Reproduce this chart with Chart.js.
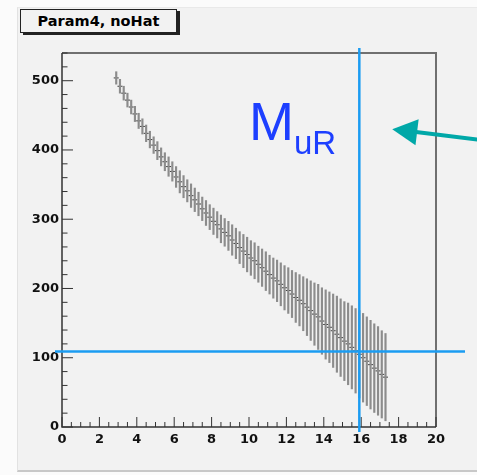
<!DOCTYPE html>
<html>
<head>
<meta charset="utf-8">
<script src="https://cdn.jsdelivr.net/npm/chart.js@4/dist/chart.umd.min.js"></script>
<style>
    html, body { margin: 0; padding: 0; background: #fbfbfb; }
    #wrap { position: relative; width: 477px; height: 475px; overflow: hidden; }
    #panel { position: absolute; left: 17px; top: 7px; width: 460px; height: 462px; background: #f2f2f2;
             border-left: 1px solid #e2e2e2; border-top: 1px solid #e9e9e9; border-bottom: 2px solid #c8c8c8; }
    #title { position: absolute; left: 20px; top: 9px; width: 155px; height: 22px; background: #f2f2f2;
             border: 1px solid #222; box-shadow: 3px 2px 0 #222; color: #000;
             font: bold 14.5px "DejaVu Sans", sans-serif; line-height: 22px; text-align: center; }
    #chart { position: absolute; left: 0; top: 0; }
</style>
</head>
<body>
<div id="wrap">
    <div id="panel"></div>
    <div id="title">Param4, noHat</div>
    <canvas id="chart" width="477" height="475"></canvas>
</div>
<script>
// bin centres
var binX = [2.9, 3.1, 3.3, 3.5, 3.7, 3.9, 4.1, 4.3, 4.5, 4.7,
            4.9, 5.1, 5.3, 5.5, 5.7, 5.9, 6.1, 6.3, 6.5, 6.7,
            6.9, 7.1, 7.3, 7.5, 7.7, 7.9, 8.1, 8.3, 8.5, 8.7,
            8.9, 9.1, 9.3, 9.5, 9.7, 9.9, 10.1, 10.3, 10.5, 10.7,
            10.9, 11.1, 11.3, 11.5, 11.7, 11.9, 12.1, 12.3, 12.5, 12.7,
            12.9, 13.1, 13.3, 13.5, 13.7, 13.9, 14.1, 14.3, 14.5, 14.7,
            14.9, 15.1, 15.3, 15.5, 15.7, 15.9, 16.1, 16.3, 16.5, 16.7,
            16.9, 17.1, 17.3];
// bin contents
var binY = [504, 492, 482, 472, 462, 452, 442, 434, 424, 415,
            407, 399, 390, 383, 376, 369, 361, 354, 347, 341,
            334, 328, 322, 315, 309, 303, 297, 292, 286, 281,
            276, 270, 265, 259, 254, 249, 244, 240, 235, 230,
            225, 220, 215, 211, 206, 201, 197, 192, 187, 183,
            178, 173, 168, 163, 159, 153, 148, 144, 139, 134,
            129, 124, 120, 115, 110, 105, 100, 95, 90, 85,
            81, 76, 72];
// half error
var binErr = [9, 10, 10, 10, 10, 11, 11, 11, 12, 12,
              12, 13, 13, 13, 14, 14, 15, 16, 16, 16,
              17, 17, 17, 17, 18, 18, 19, 19, 20, 20,
              21, 22, 22, 23, 24, 25, 25, 26, 26, 27,
              28, 28, 29, 30, 31, 32, 33, 34, 36, 37,
              39, 41, 43, 45, 47, 48, 50, 51, 53, 55,
              56, 57, 59, 60, 61, 63, 64, 64, 64, 64,
              64, 63, 63];

var cutX = 15.9;
var cutY = 109;
var labelMain = "M";
var labelSub = "uR";
var labelAt = { x: 10.0, y: 414 };
var arrowTip = { x: 17.66, y: 430 };
var arrowTail = { x: 22.5, y: 414 };

var barData = [];
var centerData = [];
for (var i = 0; i < binX.length; i++) {
    barData.push({ x: binX[i], y: [binY[i] - binErr[i], binY[i] + binErr[i]] });
    centerData.push({ x: binX[i], y: binY[i] });
}

function seg(ctx, x1, y1, x2, y2) {
    ctx.beginPath();
    ctx.moveTo(x1, y1);
    ctx.lineTo(x2, y2);
    ctx.stroke();
}

// ROOT-like frame with inward tick marks
var frameTicks = {
    id: 'frameTicks',
    beforeDatasetsDraw: function (chart) {
        var ctx = chart.ctx, a = chart.chartArea;
        var xs = chart.scales.x, ys = chart.scales.y;
        ctx.save();
        ctx.strokeStyle = '#707070';
        ctx.lineWidth = 2;
        ctx.beginPath();
        ctx.moveTo(a.left, a.top);
        ctx.lineTo(a.right, a.top);
        ctx.lineTo(a.right, a.bottom);
        ctx.stroke();
        ctx.strokeStyle = '#333333';
        ctx.lineWidth = 1.5;
        ctx.beginPath();
        ctx.moveTo(a.left, a.top);
        ctx.lineTo(a.left, a.bottom);
        ctx.lineTo(a.right, a.bottom);
        ctx.stroke();

        ctx.lineWidth = 1;
        var v, p, len;
        for (v = xs.min; v <= xs.max + 1e-6; v += 0.5) {
            p = xs.getPixelForValue(v);
            len = Math.abs(v / 2 - Math.round(v / 2)) < 1e-6 ? 10 : 5;
            seg(ctx, p, a.bottom, p, a.bottom - len);
        }
        for (v = ys.min; v <= ys.max + 1e-6; v += 20) {
            p = ys.getPixelForValue(v);
            len = v % 100 === 0 ? 11 : 5.5;
            seg(ctx, a.left, p, a.left + len, p);
        }
        ctx.restore();
    }
};

// cut lines, label and arrow
var markers = {
    id: 'markers',
    afterDraw: function (chart) {
        var ctx = chart.ctx, a = chart.chartArea;
        var xs = chart.scales.x, ys = chart.scales.y;
        ctx.save();
        ctx.strokeStyle = '#1b9cf2';
        ctx.lineWidth = 2.5;
        var px = xs.getPixelForValue(cutX);
        var py = ys.getPixelForValue(cutY);
        seg(ctx, px, a.top - 5, px, a.bottom + 5);
        seg(ctx, a.left - 7, py, a.right + 29, py);

        ctx.fillStyle = '#1d3fff';
        ctx.textBaseline = 'alphabetic';
        ctx.font = '54px "Liberation Sans", Arial, sans-serif';
        var lx = xs.getPixelForValue(labelAt.x), ly = ys.getPixelForValue(labelAt.y);
        ctx.fillText(labelMain, lx, ly);
        var w = ctx.measureText(labelMain).width;
        ctx.font = '33px "Liberation Sans", Arial, sans-serif';
        ctx.fillText(labelSub, lx + w, ly + 14);

        var tx = xs.getPixelForValue(arrowTip.x), ty = ys.getPixelForValue(arrowTip.y);
        var sx = xs.getPixelForValue(arrowTail.x), sy = ys.getPixelForValue(arrowTail.y);
        var ang = Math.atan2(sy - ty, sx - tx);
        var hl = 25, hw = 13;
        var bx = tx + Math.cos(ang) * hl, by = ty + Math.sin(ang) * hl;
        ctx.strokeStyle = '#00a8a8';
        ctx.fillStyle = '#00a8a8';
        ctx.lineWidth = 4;
        seg(ctx, sx, sy, bx - Math.cos(ang) * 3, by - Math.sin(ang) * 3);
        ctx.beginPath();
        ctx.moveTo(tx, ty);
        ctx.lineTo(bx - Math.sin(ang) * hw, by + Math.cos(ang) * hw);
        ctx.lineTo(bx + Math.sin(ang) * hw, by - Math.cos(ang) * hw);
        ctx.closePath();
        ctx.fill();
        ctx.restore();
    }
};

var tickFont = { family: 'DejaVu Sans', weight: 'bold', size: 13 };

new Chart(document.getElementById('chart'), {
    type: 'bar',
    data: {
        datasets: [
            {
                type: 'bar',
                data: barData,
                backgroundColor: '#8c8c8c',
                borderWidth: 0,
                barThickness: 1.5,
                grouped: false
            },
            {
                type: 'line',
                data: centerData,
                showLine: false,
                pointStyle: 'line',
                pointRadius: 2.5,
                pointBorderWidth: 1,
                pointBorderColor: '#3a3a3a',
                pointBackgroundColor: '#3a3a3a'
            }
        ]
    },
    options: {
        responsive: false,
        animation: false,
        layout: { padding: { top: 53, right: 41, left: 0, bottom: 0 } },
        plugins: {
            legend: { display: false },
            title: { display: false },
            tooltip: { enabled: false }
        },
        scales: {
            x: {
                type: 'linear',
                offset: false,
                min: 0,
                max: 20,
                grid: { display: false, drawTicks: false },
                border: { display: false },
                ticks: { stepSize: 2, padding: 5, color: '#111', font: tickFont, maxRotation: 0 },
                afterFit: function (s) { s.height = 48; }
            },
            y: {
                type: 'linear',
                min: 0,
                max: 540,
                grid: { display: false, drawTicks: false },
                border: { display: false },
                ticks: { stepSize: 100, padding: 3, color: '#111', font: tickFont },
                afterBuildTicks: function (s) {
                    s.ticks = s.ticks.filter(function (t) { return t.value % 100 === 0; });
                },
                afterFit: function (s) { s.width = 62; }
            }
        }
    },
    plugins: [frameTicks, markers]
});
</script>
</body>
</html>
